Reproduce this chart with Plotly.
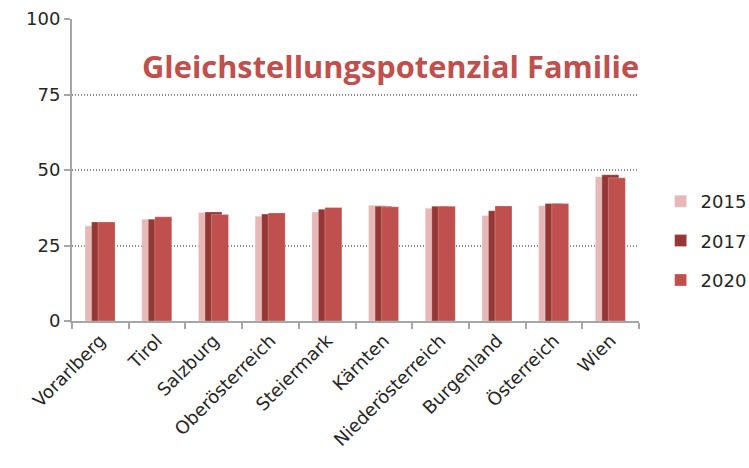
import plotly.graph_objects as go

categories = ["Vorarlberg", "Tirol", "Salzburg", "Oberösterreich", "Steiermark",
              "Kärnten", "Niederösterreich", "Burgenland", "Österreich", "Wien"]
v2015 = [31.5, 33.7, 35.9, 34.7, 36.1, 38.3, 37.3, 34.9, 38.2, 47.8]
v2017 = [32.8, 33.7, 36.1, 35.4, 37.0, 38.0, 38.0, 36.5, 38.9, 48.4]
v2020 = [32.8, 34.5, 35.3, 35.8, 37.6, 37.8, 38.0, 38.1, 38.9, 47.4]
series = [("2015", v2015, "#E6B9B8", -0.27),
          ("2017", v2017, "#953735", -0.155),
          ("2020", v2020, "#C0504D", -0.04)]

FONT = "DejaVu Sans"
fig = go.Figure()
for name, vals, col, off in series:
    fig.add_trace(go.Bar(
        x=categories, y=vals, name=name, marker_color=col,
        marker_line=dict(color="rgba(255,255,255,0.5)", width=0.5),
        width=0.3, offset=off, legendgroup=name,
    ))

fig.update_layout(
    width=749, height=468,
    margin=dict(l=72, r=110, t=19, b=147),
    barmode="overlay",
    plot_bgcolor="white", paper_bgcolor="white",
    font=dict(family=FONT, size=18, color="#262626"),
    showlegend=True,
    legend=dict(xref="container", x=0.882, xanchor="left",
                yref="container", y=0.485, yanchor="middle",
                traceorder="grouped", tracegroupgap=13,
                font=dict(size=18, family=FONT, color="#262626"),
                itemwidth=30),
    xaxis=dict(showline=True, linecolor="#A6A6A6", linewidth=2,
               ticks="outside", tickson="boundaries", ticklen=6,
               tickcolor="#A6A6A6", tickwidth=2, tickangle=-45,
               automargin=False,
               tickfont=dict(size=18, family=FONT)),
    yaxis=dict(range=[0, 100], tickvals=[0, 25, 50, 75, 100],
               showline=True, linecolor="#A6A6A6", linewidth=2,
               ticks="outside", ticklen=6, tickcolor="#A6A6A6", tickwidth=2,
               showgrid=True, gridcolor="#8C8C8C", griddash="1px,2px", gridwidth=1.5,
               zeroline=False, automargin=False,
               tickfont=dict(size=18, family=FONT)),
    annotations=[dict(text="<b>Gleichstellungspotenzial Familie</b>",
                      x=1.0035, xref="paper", xanchor="right",
                      y=0.845, yref="paper", yanchor="middle",
                      showarrow=False,
                      font=dict(size=30.8, family="Open Sans", color="#C0504D"))],
)
fig.write_html("out.html", config={"displayModeBar": False})

# remove the browser's default body margin so the figure sits at the page origin
with open("out.html", encoding="utf-8") as f:
    html = f.read()
html = html.replace("<body>", '<body style="margin:0;overflow:hidden">', 1)
with open("out.html", "w", encoding="utf-8") as f:
    f.write(html)
